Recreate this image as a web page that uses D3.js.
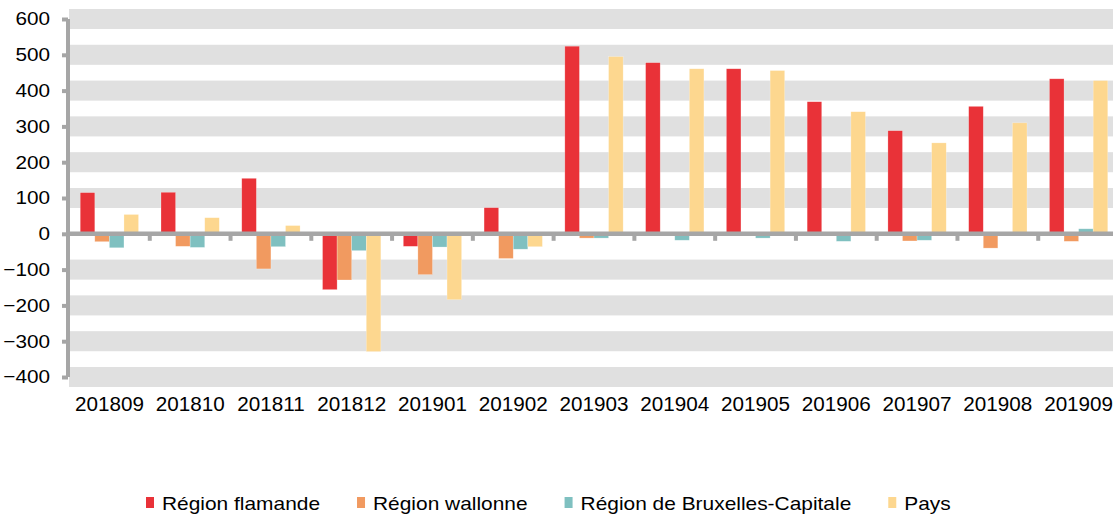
<!DOCTYPE html>
<html>
<head>
<meta charset="utf-8">
<script src="https://cdn.jsdelivr.net/npm/d3@7"></script>
<style>
  body { margin: 0; background: #fff; }
  svg { display: block; font-family: "Liberation Sans", Arial, sans-serif; }
</style>
</head>
<body>
<svg id="chart"></svg>
<script>
const months = ["201809", "201810", "201811", "201812", "201901", "201902", "201903",
                "201904", "201905", "201906", "201907", "201908", "201909"];
const seriesNames = ["Région flamande", "Région wallonne", "Région de Bruxelles-Capitale", "Pays"];
const flamande  = [115, 116, 155, -156, -35, 73, 524, 478, 461, 369, 288, 356, 433];
const wallonne  = [-22, -35, -98, -129, -114, -69, -12, -3, -2, -4, -20, -40, -21];
const bruxelles = [-39, -38, -36, -47, -37, -43, -12, -18, -12, -21, -18, -2, 14];
const pays      = [54, 45, 23, -329, -184, -36, 495, 461, 456, 341, 254, 310, 428];
const yTicks = [-400, -300, -200, -100, 0, 100, 200, 300, 400, 500, 600];
const colors = ["#e93238", "#f19a60", "#7fc0c0", "#fdd78f"];

const width = 1113;
const height = 515;
const margin = { top: 19, right: -6, bottom: 138, left: 69 };

const svg = d3.select("#chart")
    .attr("width", width)
    .attr("height", height);

const values = [flamande, wallonne, bruxelles, pays];
const data = months.map((m, i) => ({
    month: m,
    vals: seriesNames.map((s, j) => ({ name: s, value: values[j][i], color: colors[j] }))
}));

// stretch text horizontally (source image looks widened)
function stretch(sel, k) {
    sel.each(function () {
        const len = this.getComputedTextLength();
        d3.select(this).attr("textLength", len * k).attr("lengthAdjust", "spacingAndGlyphs");
    });
}

const x0 = d3.scaleBand()
    .domain(months)
    .range([margin.left, width - margin.right]);

const x1 = d3.scaleBand()
    .domain(seriesNames)
    .range([0, x0.bandwidth()])
    .paddingOuter(0.77);

const y = d3.scaleLinear()
    .domain([-400, 600])
    .range([height - margin.bottom, margin.top]);

// grey bands around gridlines
svg.append("g")
    .selectAll("rect")
    .data(yTicks.filter(d => d !== 0))
    .join("rect")
    .attr("x", margin.left)
    .attr("width", width - margin.left)
    .attr("y", d => y(d + 28))
    .attr("height", d => y(d - 28) - y(d + 28))
    .attr("fill", "#e0e0e0");

// bars
svg.append("g")
    .selectAll("g")
    .data(data)
    .join("g")
    .attr("transform", d => `translate(${x0(d.month)},0)`)
    .selectAll("rect")
    .data(d => d.vals)
    .join("rect")
    .attr("x", d => x1(d.name))
    .attr("width", x1.bandwidth())
    .attr("y", d => y(Math.max(0, d.value)))
    .attr("height", d => Math.abs(y(d.value) - y(0)))
    .attr("fill", d => d.color)
    .attr("stroke", "#fff")
    .attr("stroke-opacity", 0.4)
    .attr("stroke-width", 0.6);

// x axis line + boundary ticks
svg.append("line")
    .attr("x1", margin.left - 3)
    .attr("x2", width)
    .attr("y1", y(0))
    .attr("y2", y(0))
    .attr("stroke", "#a6a6a6")
    .attr("stroke-width", 4.5);

svg.append("g")
    .selectAll("line")
    .data(months.slice(1))
    .join("line")
    .attr("x1", d => x0(d))
    .attr("x2", d => x0(d))
    .attr("y1", y(0))
    .attr("y2", y(0) + 7)
    .attr("stroke", "#a6a6a6")
    .attr("stroke-width", 4);

// x labels
const xAxis = svg.append("g")
    .attr("transform", `translate(0,${height - margin.bottom + 12})`)
    .call(d3.axisBottom(x0).tickSize(0).tickPadding(8));
xAxis.select(".domain").remove();
xAxis.selectAll("text")
    .attr("font-size", "19.5px")
    .attr("fill", "#000")
    .attr("font-family", "Liberation Sans, Arial, sans-serif")
    .call(stretch, 1.06);

// y axis
const yAxis = svg.append("g")
    .attr("transform", `translate(${margin.left - 1},0)`)
    .call(d3.axisLeft(y).tickValues(yTicks).tickSize(6).tickPadding(12));
yAxis.select(".domain")
    .attr("stroke", "#a6a6a6")
    .attr("stroke-width", 4)
    .attr("d", `M0,${y(600)}V${y(-400)}`);
yAxis.selectAll(".tick line")
    .attr("stroke", "#a6a6a6")
    .attr("stroke-width", 4);
yAxis.selectAll("text")
    .attr("font-size", "18.5px")
    .attr("fill", "#000")
    .attr("font-family", "Liberation Sans, Arial, sans-serif")
    .call(stretch, 1.12);

// legend
const legend = svg.append("g").attr("transform", "translate(146,510)");
let lx = 0;
seriesNames.forEach((name, i) => {
    const g = legend.append("g").attr("transform", `translate(${lx},0)`);
    g.append("rect")
        .attr("x", 0)
        .attr("y", -13)
        .attr("width", 8)
        .attr("height", 11)
        .attr("fill", colors[i]);
    const t = g.append("text")
        .attr("x", 16)
        .attr("y", 0)
        .attr("font-size", "19px")
        .attr("fill", "#000")
        .text(name);
    const w = t.node().getComputedTextLength() * 1.1;
    t.attr("textLength", w).attr("lengthAdjust", "spacingAndGlyphs");
    lx += 16 + w + 37;
});
</script>
</body>
</html>
